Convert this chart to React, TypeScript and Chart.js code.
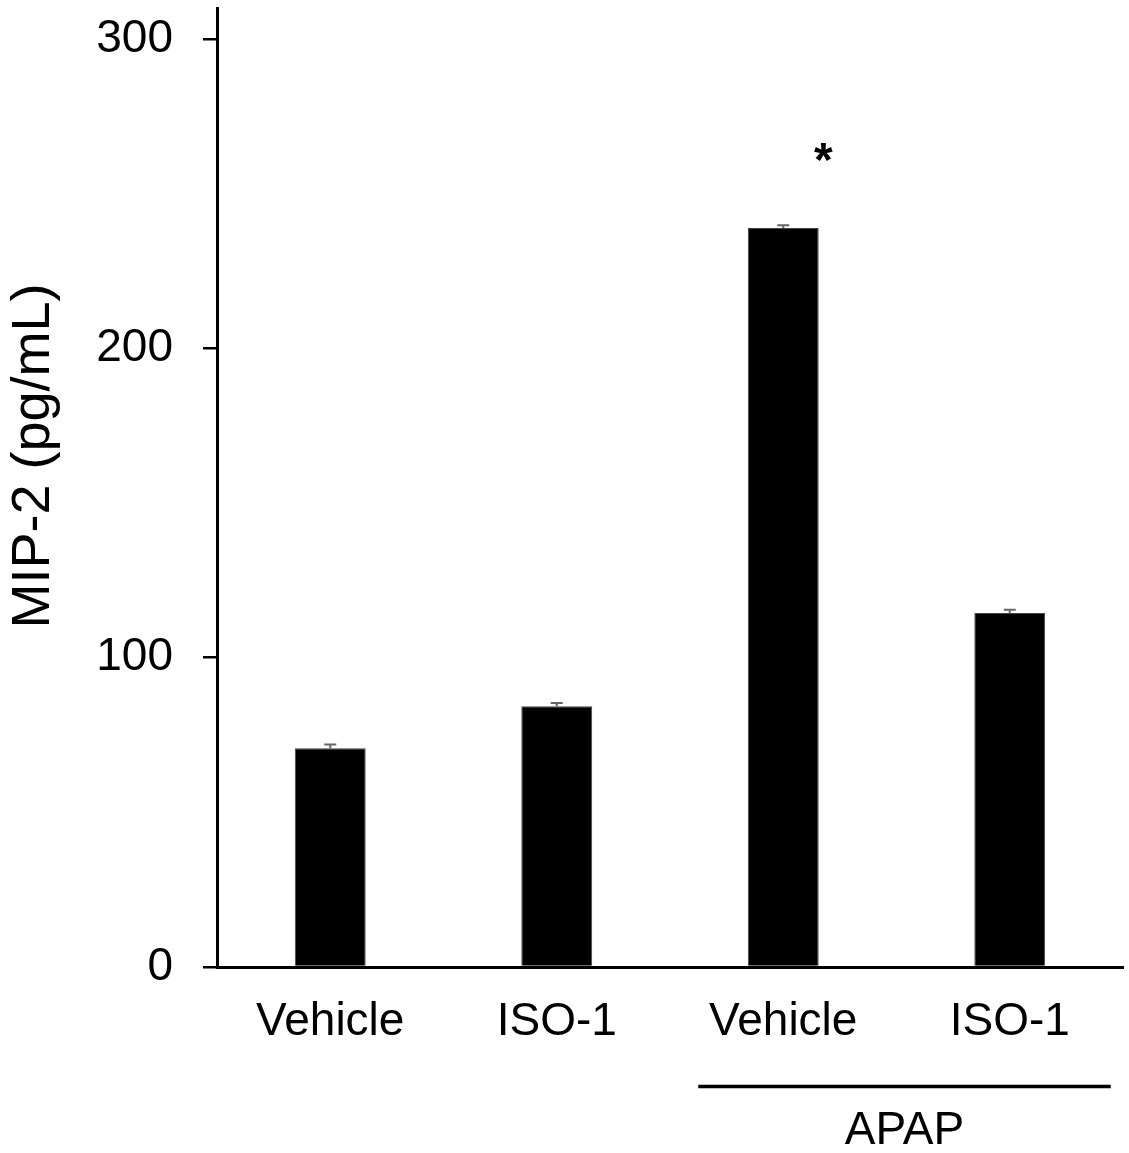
import React, { useEffect, useRef } from "react";
import { Chart, registerables } from "chart.js";

Chart.register(...registerables);

const categories = ["Vehicle", "ISO-1", "Vehicle", "ISO-1"];
const values = [70.7, 84.3, 238.9, 114.4];
const errors = [1.2, 1.0, 0.9, 1.1];
const yTicks = [0, 100, 200, 300];
const yTitle = "MIP-2 (pg/mL)";
const groupLabel = "APAP";
const groupIndices = [2, 3];
const starIndex = 2;

const FONT = "'Liberation Sans', Arial, sans-serif";

const overlayPlugin = {
  id: "overlay",
  afterDatasetsDraw(chart: any) {
    const ctx = chart.ctx;
    const meta = chart.getDatasetMeta(0);
    const y = chart.scales.y;
    const x = chart.scales.x;
    ctx.save();
    // error bars
    ctx.strokeStyle = "#666666";
    ctx.lineWidth = 2;
    meta.data.forEach((bar: any, i: number) => {
      const top = y.getPixelForValue(values[i] + errors[i]);
      const base = y.getPixelForValue(values[i]);
      ctx.beginPath();
      ctx.moveTo(bar.x, base);
      ctx.lineTo(bar.x, top);
      ctx.moveTo(bar.x - 6, top);
      ctx.lineTo(bar.x + 6, top);
      ctx.stroke();
    });
    // asterisk
    const sb = meta.data[starIndex];
    ctx.fillStyle = "#000";
    ctx.font = `bold 48px ${FONT}`;
    ctx.textAlign = "center";
    ctx.textBaseline = "alphabetic";
    ctx.fillText("*", sb.x + 40, y.getPixelForValue(values[starIndex]) - 52);
    // group bracket
    const x1 = x.getPixelForValue(groupIndices[0]) - 85;
    const x2 = x.getPixelForValue(groupIndices[1]) + 101;
    ctx.strokeStyle = "#000";
    ctx.lineWidth = 3.5;
    ctx.beginPath();
    ctx.moveTo(x1, 1086.5);
    ctx.lineTo(x2, 1086.5);
    ctx.stroke();
    ctx.font = `46px ${FONT}`;
    ctx.fillText(groupLabel, (x1 + x2) / 2, 1143.5);
    // y axis title
    ctx.translate(34.5, 456);
    ctx.rotate(-Math.PI / 2);
    ctx.font = `54px ${FONT}`;
    ctx.textAlign = "center";
    ctx.textBaseline = "middle";
    ctx.fillText(yTitle, 0, 0);
    ctx.restore();
  },
};

export default function App() {
  const ref = useRef<HTMLCanvasElement>(null);
  useEffect(() => {
    if (!ref.current) return;
    const chart = new Chart(ref.current, {
      type: "bar",
      data: {
        labels: categories,
        datasets: [
          {
            data: values,
            backgroundColor: "#000000",
            borderColor: "#444444",
            borderWidth: 1,
            barPercentage: 0.313,
            categoryPercentage: 1,
          },
        ],
      },
      plugins: [overlayPlugin],
      options: {
        animation: false,
        responsive: true,
        maintainAspectRatio: false,
        layout: { padding: { top: 8, right: 6, left: 0, bottom: 0 } },
        plugins: { legend: { display: false }, tooltip: { enabled: false } },
        scales: {
          x: {
            grid: { display: false, drawTicks: false },
            border: { display: true, color: "#000", width: 3 },
            ticks: {
              color: "#000",
              font: { family: FONT, size: 46 },
              padding: 28,
              maxRotation: 0,
              autoSkip: false,
            },
            afterFit(scale: any) {
              scale.height = 186;
              scale.paddingLeft = 0;
              scale.paddingRight = 0;
            },
          },
          y: {
            min: 0,
            max: 310,
            afterBuildTicks(scale: any) {
              scale.ticks = yTicks.map((v) => ({ value: v }));
            },
            grid: {
              display: true,
              drawOnChartArea: false,
              drawTicks: true,
              tickLength: 14,
              color: "#000",
              lineWidth: 2.5,
            },
            border: { display: true, color: "#000", width: 3 },
            ticks: {
              color: "#000",
              font: { family: FONT, size: 46 },
              padding: 30,
            },
            afterFit(scale: any) {
              scale.width = 217;
              scale.paddingTop = 0;
              scale.paddingBottom = 0;
            },
          },
        },
      },
    });
    return () => chart.destroy();
  }, []);
  return (
    <div style={{ position: "absolute", left: 0, top: 0, width: 1129, height: 1153, background: "#fff" }}>
      <canvas ref={ref} />
    </div>
  );
}
